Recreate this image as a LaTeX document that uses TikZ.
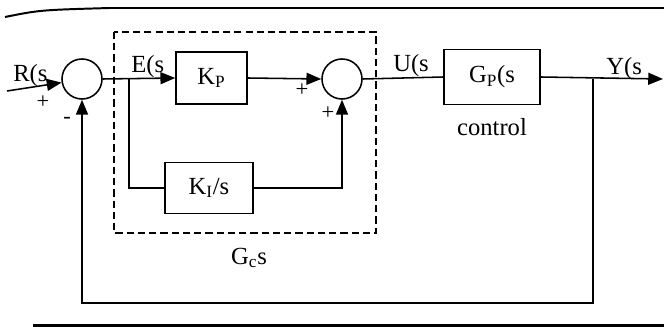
\documentclass[tikz,border=0pt]{standalone}
\usepackage{fontspec}
\setmainfont{Liberation Serif}
\usepackage{tikz}
\usetikzlibrary{arrows.meta,positioning}

\begin{document}
\begin{tikzpicture}[x=0.025cm,y=-0.025cm,
  font=\fontsize{17.5}{20}\selectfont,
  line/.style={line width=1.1pt},
  arr/.style={line,-{Triangle[length=10.5pt,width=8.5pt]}},
  block/.style={draw,line width=1.1pt,inner sep=0pt},
  sumnode/.style={circle,draw,line width=1.1pt,minimum size=1cm,inner sep=0pt},
  lbl/.style={inner sep=0pt,anchor=base west},
  sign/.style={inner sep=0pt,font=\fontsize{16}{18}\selectfont},
  gcbox/.style={line width=0.9pt,dash pattern=on 5pt off 3pt}
]
\useasboundingbox (0,0) rectangle (664,327);
%--- frame lines ---
\draw[line width=1.4pt] (5,17) .. controls (40,10) .. (110,8) -- (664,8);
\draw[line width=2pt] (33,325.5) -- (664,325.5);
%--- controller G_c(s) ---
\draw[gcbox] (114,32) rectangle (376,233);
\node[sumnode] (sum1) at (82,79) {};
\node[block,minimum width=1.775cm,minimum height=1.3cm] (kp) at (211.5,78) {K\textsubscript{P}};
\node[block,minimum width=2.2cm,minimum height=1.275cm] (ki) at (209,188) {K\textsubscript{I}/s};
\node[sumnode] (sum2) at (342,79) {};
\node (gc) at (249,258) {G\textsubscript{c}s};
%--- plant ---
\node[block,minimum width=2.4cm,minimum height=1.375cm] (gp) at (492,77) {G\textsubscript{P}(s};
\node (ctl) at (492,127) {control};
%--- signals ---
\coordinate (rin) at (7,91);
\coordinate (br) at (129,79);
\coordinate (fb) at (593,79);
\coordinate (fbc) at (593,303);
\coordinate (yout) at (663,79);
\draw[arr] (rin) -- (sum1.190);
\draw[arr] (sum1.east) -- (kp.west);
\draw[line] (br) |- (ki.west);
\draw[arr] (kp.east) -- (sum2.west);
\draw[arr] (ki.east) -| (sum2.south);
\draw[line] (sum2.east) -- (gp.west);
\draw[arr] (gp.east) -- (yout);
\draw[arr] (fb) -- (fbc) -| (sum1.south);
%--- labels ---
\node[lbl] (rlbl) at (13,82) {R(s};
\node[lbl] (elbl) at (131,73) {E(s};
\node[lbl] (ulbl) at (393,72) {U(s};
\node[lbl] (ylbl) at (606,75) {Y(s};
\node[sign] (p1) at (43,102) {+};
\node[sign] (m1) at (67,120) {-};
\node[sign] (p2) at (302,90) {+};
\node[sign] (p3) at (328,113) {+};
\end{tikzpicture}
\end{document}
